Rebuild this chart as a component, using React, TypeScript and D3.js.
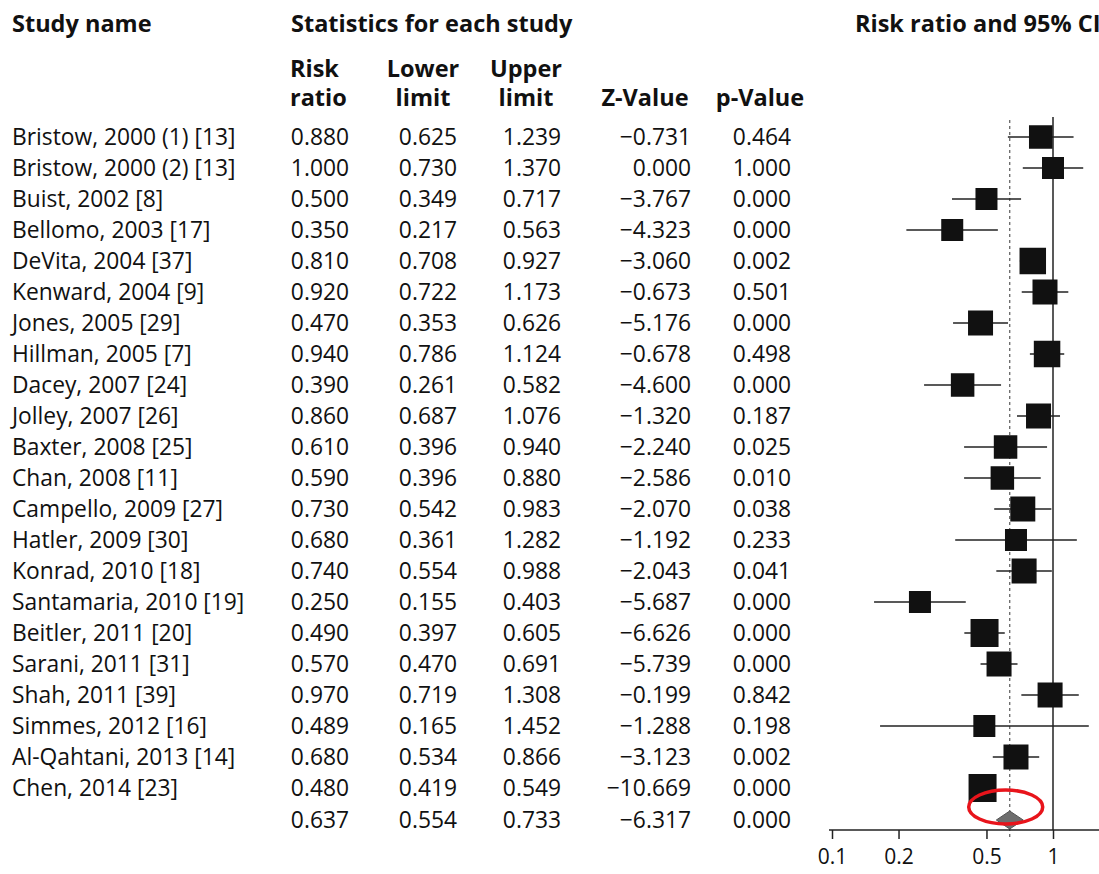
import React, { useEffect, useRef } from "react";
import * as d3 from "d3";

// study rows
const studies = [
  "Bristow, 2000 (1) [13]", "Bristow, 2000 (2) [13]", "Buist, 2002 [8]", "Bellomo, 2003 [17]",
  "DeVita, 2004 [37]", "Kenward, 2004 [9]", "Jones, 2005 [29]", "Hillman, 2005 [7]",
  "Dacey, 2007 [24]", "Jolley, 2007 [26]", "Baxter, 2008 [25]", "Chan, 2008 [11]",
  "Campello, 2009 [27]", "Hatler, 2009 [30]", "Konrad, 2010 [18]", "Santamaria, 2010 [19]",
  "Beitler, 2011 [20]", "Sarani, 2011 [31]", "Shah, 2011 [39]", "Simmes, 2012 [16]",
  "Al-Qahtani, 2013 [14]", "Chen, 2014 [23]",
];
const riskRatio = [0.88, 1.0, 0.5, 0.35, 0.81, 0.92, 0.47, 0.94, 0.39, 0.86, 0.61, 0.59, 0.73, 0.68, 0.74, 0.25, 0.49, 0.57, 0.97, 0.489, 0.68, 0.48];
const lowerLimit = [0.625, 0.73, 0.349, 0.217, 0.708, 0.722, 0.353, 0.786, 0.261, 0.687, 0.396, 0.396, 0.542, 0.361, 0.554, 0.155, 0.397, 0.47, 0.719, 0.165, 0.534, 0.419];
const upperLimit = [1.239, 1.37, 0.717, 0.563, 0.927, 1.173, 0.626, 1.124, 0.582, 1.076, 0.94, 0.88, 0.983, 1.282, 0.988, 0.403, 0.605, 0.691, 1.308, 1.452, 0.866, 0.549];
const zValue = [-0.731, 0.0, -3.767, -4.323, -3.06, -0.673, -5.176, -0.678, -4.6, -1.32, -2.24, -2.586, -2.07, -1.192, -2.043, -5.687, -6.626, -5.739, -0.199, -1.288, -3.123, -10.669];
const pValue = [0.464, 1.0, 0.0, 0.0, 0.002, 0.501, 0.0, 0.498, 0.0, 0.187, 0.025, 0.01, 0.038, 0.233, 0.041, 0.0, 0.0, 0.0, 0.842, 0.198, 0.002, 0.0];
// relative weights (marker size)
const weights = [4, 3, 3, 3, 6, 5, 5, 6, 4, 5, 4, 4, 5, 3, 5, 3, 7, 5, 5, 3, 5, 7];

const summary = { rr: 0.637, lower: 0.554, upper: 0.733, z: -6.317, p: 0.0 };
const axisTicks = [0.1, 0.2, 0.5, 1];

const FONT = "'Open Sans', 'Noto Sans', sans-serif";

const fmt3 = d3.format(".3f");
const fmtZ = (v: number) => (v < 0 ? "\u2212" + fmt3(-v) : fmt3(v));

export default function App() {
  const ref = useRef<SVGSVGElement>(null);

  useEffect(() => {
    const svg = d3.select(ref.current);
    svg.selectAll("*").remove();

    const x = d3.scaleLog().domain([0.1, 10]).range([832, 1274]);
    const y = d3.scaleLinear().domain([0, studies.length - 1]).range([137, 788]);
    const size = d3.scaleLinear().domain([3, 7]).range([22, 28]);
    const ySum = y(studies.length) + 1;
    const axisY = 830;

    // header
    const hdr = svg.append("g").attr("font-family", FONT).attr("font-weight", "bold").attr("font-size", 23.5).attr("fill", "#111");
    hdr.append("text").attr("x", 12).attr("y", 32).text("Study name");
    hdr.append("text").attr("x", 291).attr("y", 32).text("Statistics for each study");
    hdr.append("text").attr("x", 855).attr("y", 32).text("Risk ratio and 95% CI");
    const sub = [
      { x: 290, a: "start", l1: "Risk", l2: "ratio" },
      { x: 423, a: "middle", l1: "Lower", l2: "limit" },
      { x: 526, a: "middle", l1: "Upper", l2: "limit" },
      { x: 645, a: "middle", l1: "", l2: "Z-Value" },
      { x: 760, a: "middle", l1: "", l2: "p-Value" },
    ];
    sub.forEach((s) => {
      hdr.append("text").attr("x", s.x).attr("y", 77).attr("text-anchor", s.a).text(s.l1);
      hdr.append("text").attr("x", s.x).attr("y", 106).attr("text-anchor", s.a).text(s.l2);
    });

    // table body
    const body = svg.append("g").attr("font-family", FONT).attr("font-size", 22.8).attr("fill", "#111");
    const rows = studies.map((name, i) => ({
      name, rr: riskRatio[i], lo: lowerLimit[i], hi: upperLimit[i], z: zValue[i], p: pValue[i], w: weights[i], y: y(i),
    }));
    const allRows = [...rows, { name: "", rr: summary.rr, lo: summary.lower, hi: summary.upper, z: summary.z, p: summary.p, w: 0, y: ySum }];

    const g = body.selectAll("g.row").data(allRows).enter().append("g").attr("class", "row");
    g.append("text").attr("x", 12).attr("y", (d) => d.y + 8).text((d) => d.name);
    g.append("text").attr("x", 349).attr("y", (d) => d.y + 8).attr("text-anchor", "end").text((d) => fmt3(d.rr));
    g.append("text").attr("x", 457).attr("y", (d) => d.y + 8).attr("text-anchor", "end").text((d) => fmt3(d.lo));
    g.append("text").attr("x", 561).attr("y", (d) => d.y + 8).attr("text-anchor", "end").text((d) => fmt3(d.hi));
    g.append("text").attr("x", 691).attr("y", (d) => d.y + 8).attr("text-anchor", "end").text((d) => fmtZ(d.z));
    g.append("text").attr("x", 791).attr("y", (d) => d.y + 8).attr("text-anchor", "end").text((d) => fmt3(d.p));

    // reference lines
    svg.append("line").attr("x1", x(1)).attr("x2", x(1)).attr("y1", 117).attr("y2", axisY)
      .attr("stroke", "#222").attr("stroke-width", 1.5);
    svg.append("line").attr("x1", x(summary.rr)).attr("x2", x(summary.rr)).attr("y1", 120).attr("y2", axisY + 8)
      .attr("stroke", "#666").attr("stroke-width", 1.3).attr("stroke-dasharray", "3,3");

    // CI lines and squares
    const plot = svg.append("g");
    plot.selectAll("line.ci").data(rows).enter().append("line").attr("class", "ci")
      .attr("x1", (d) => x(d.lo)).attr("x2", (d) => x(d.hi))
      .attr("y1", (d) => d.y).attr("y2", (d) => d.y)
      .attr("stroke", "#222").attr("stroke-width", 1.5);
    plot.selectAll("rect.pt").data(rows).enter().append("rect").attr("class", "pt")
      .attr("x", (d) => x(d.rr) - size(d.w) / 2).attr("y", (d) => d.y - size(d.w) / 2)
      .attr("width", (d) => size(d.w)).attr("height", (d) => size(d.w))
      .attr("fill", "#111");

    // summary diamond
    const dh = 9;
    plot.append("path")
      .attr("d", `M${x(summary.lower)},${ySum} L${x(summary.rr)},${ySum - dh} L${x(summary.upper)},${ySum} L${x(summary.rr)},${ySum + dh} Z`)
      .attr("fill", "#6e6e6e").attr("stroke", "#555");

    // highlight ellipse
    svg.append("ellipse").attr("cx", x(summary.rr) - 4).attr("cy", ySum - 13).attr("rx", 37).attr("ry", 17)
      .attr("fill", "none").attr("stroke", "#e8141b").attr("stroke-width", 3.5);

    // axis
    const axis = d3.axisBottom(x).tickValues(axisTicks).tickFormat((d) => String(d)).tickSize(9);
    const ag = svg.append("g").attr("transform", `translate(0,${axisY})`).call(axis);
    ag.select(".domain").attr("stroke", "#222").attr("stroke-width", 1.5).attr("d", `M829,0H1280`);
    ag.selectAll(".tick line").attr("stroke", "#222").attr("stroke-width", 1.5);
    ag.selectAll(".tick text").attr("font-family", FONT).attr("font-size", 21).attr("fill", "#111").attr("dy", "1.05em");
  }, []);

  return (
    <svg ref={ref} width={1099} height={874} style={{ display: "block", position: "absolute", left: 0, top: 0, background: "#fff" }} />
  );
}
